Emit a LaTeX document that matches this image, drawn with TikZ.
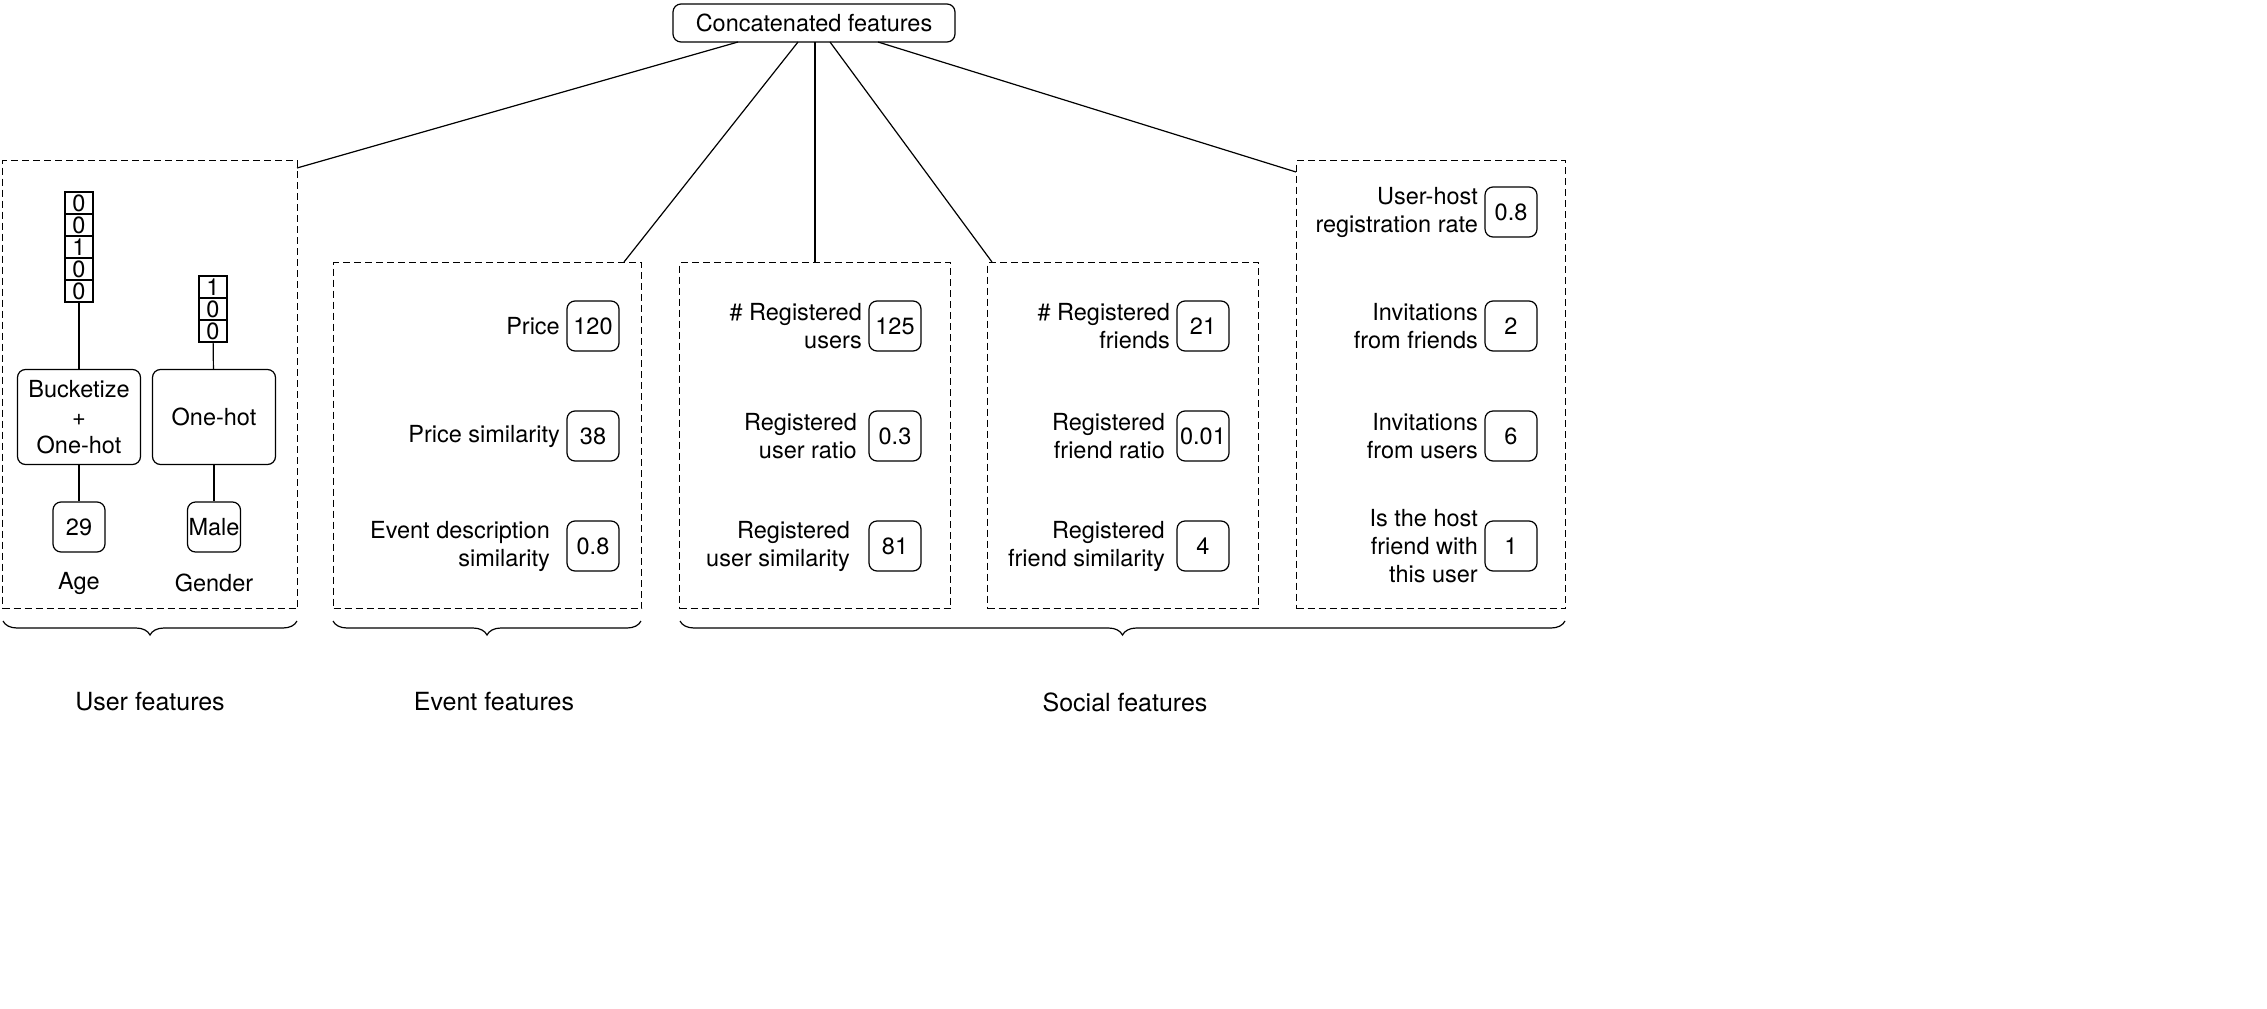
\documentclass[tikz,border=0pt]{standalone}
\usepackage{fontspec}
\setmainfont{TeX Gyre Heros}
\usetikzlibrary{decorations.pathreplacing}
\begin{document}
\begin{tikzpicture}[x=1pt,y=-1pt,
  every node/.style={font=\fontsize{23.5}{28}\selectfont},
  rbox/.style={draw,line width=1.2pt,rounded corners=8pt,minimum width=52pt,minimum height=50pt,inner sep=0pt},
  lbl/.style={anchor=east,align=right,inner sep=0pt},
  grp/.style={draw,line width=1.2pt,dash pattern=on 7pt off 4pt},
  cell/.style={draw,line width=1.2pt,minimum width=28pt,minimum height=22pt,inner sep=0pt},
  br/.style={line width=1.2pt,decorate,decoration={brace,mirror,amplitude=14pt}}]
\useasboundingbox (0,0) rectangle (2267,1009);
\node[draw,line width=1.2pt,rounded corners=8pt,minimum width=282pt,minimum height=38pt] (top) at (814,23) {Concatenated features};
\node[grp,minimum width=295pt,minimum height=448pt,anchor=north west] (ug) at (2,160) {};
\node[grp,minimum width=308pt,minimum height=346pt,anchor=north west] (eg) at (333,262) {};
\node[grp,minimum width=271pt,minimum height=346pt,anchor=north west] (sg) at (679,262) {};
\node[grp,minimum width=271pt,minimum height=346pt,anchor=north west] (fg) at (987,262) {};
\node[grp,minimum width=269pt,minimum height=448pt,anchor=north west] (rg) at (1296,160) {};
\coordinate (t1) at (738,42); \coordinate (t2) at (798,42); \coordinate (t3) at (815,42);
\coordinate (t4) at (830,42); \coordinate (t5) at (878,42);
\coordinate (e1) at (297,168); \coordinate (e2) at (624,262); \coordinate (e3) at (815,262);
\coordinate (e4) at (992,262); \coordinate (e5) at (1296,172);
\draw[line width=1.2pt] (t1)--(e1); \draw[line width=1.2pt] (t2)--(e2); \draw[line width=1.2pt] (t3)--(e3);
\draw[line width=1.2pt] (t4)--(e4); \draw[line width=1.2pt] (t5)--(e5);
% user features
\foreach \v [count=\i] in {0,0,1,0,0} \node[cell] (a\i) at (79,{181+22*\i}) {\v};
\foreach \v [count=\i] in {1,0,0} \node[cell] (g\i) at (213,{265+22*\i}) {\v};
\node[draw,line width=1.2pt,rounded corners=8pt,minimum width=123pt,minimum height=95pt,align=center] (bk) at (79,417) {Bucketize\\+\\One-hot};
\node[draw,line width=1.2pt,rounded corners=8pt,minimum width=123pt,minimum height=95pt] (oh) at (214,417) {One-hot};
\node[rbox] (age) at (79,527) {29};
\node[rbox,minimum width=53pt] (male) at (214,527) {Male};
\node (agel) at (79,583) {Age};
\node (genl) at (214,583) {Gender};
\draw[line width=1.2pt] (a5)--(bk); \draw[line width=1.2pt] (bk)--(age);
\draw[line width=1.2pt] (g3)--(oh); \draw[line width=1.2pt] (oh)--(male);
% event
\node[rbox] (p1) at (593,326) {120}; \node[lbl] at (560,326) {Price};
\node[rbox] (p2) at (593,436) {38}; \node[lbl] at (560,436) {Price similarity};
\node[rbox] (p3) at (593,546) {0.8}; \node[lbl] at (550,546) {Event description\\similarity};
% users
\node[rbox] (u1) at (895,326) {125}; \node[lbl] at (862,326) {\# Registered\\users};
\node[rbox] (u2) at (895,436) {0.3}; \node[lbl] at (857,436) {Registered\\user ratio};
\node[rbox] (u3) at (895,546) {81}; \node[lbl] at (850,546) {Registered\\user similarity};
% friends
\node[rbox] (f1) at (1203,326) {21}; \node[lbl] at (1170,326) {\# Registered\\friends};
\node[rbox] (f2) at (1203,436) {0.01}; \node[lbl] at (1165,436) {Registered\\friend ratio};
\node[rbox] (f3) at (1203,546) {4}; \node[lbl] at (1165,546) {Registered\\friend similarity};
% right
\node[rbox] (r1) at (1511,212) {0.8}; \node[lbl] at (1478,212) {User-host\\registration rate};
\node[rbox] (r2) at (1511,326) {2}; \node[lbl] at (1478,326) {Invitations\\from friends};
\node[rbox] (r3) at (1511,436) {6}; \node[lbl] at (1478,436) {Invitations\\from users};
\node[rbox] (r4) at (1511,546) {1}; \node[lbl] at (1478,546) {Is the host\\friend with\\this user};
% braces
\coordinate (b1a) at (3,621); \coordinate (b1b) at (297,621);
\coordinate (b2a) at (333,621); \coordinate (b2b) at (641,621);
\coordinate (b3a) at (680,621); \coordinate (b3b) at (1565,621);
\draw[br] (b1a)--(b1b); \draw[br] (b2a)--(b2b); \draw[br] (b3a)--(b3b);
\node[font=\fontsize{25}{30}\selectfont] (l1) at (150,702) {User features};
\node[font=\fontsize{25}{30}\selectfont] (l2) at (494,702) {Event features};
\node[font=\fontsize{25}{30}\selectfont] (l3) at (1125,702) {Social features};
\end{tikzpicture}
\end{document}
